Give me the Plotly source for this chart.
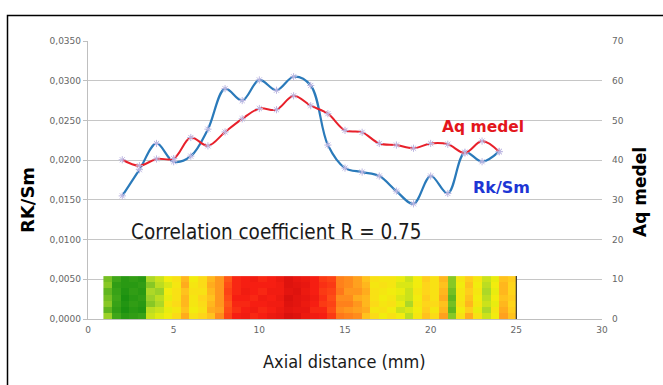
import numpy as np
import plotly.graph_objects as go

# ---------------- data ----------------
axial_mm = [2, 3, 4, 5, 6, 7, 8, 9, 10, 11, 12, 13, 14, 15, 16, 17, 18, 19, 20, 21, 22, 23, 24]
rk_sm = [0.0155, 0.0188, 0.0221, 0.0198, 0.0205, 0.0239, 0.0290, 0.0275, 0.0301, 0.0288, 0.0305,
         0.0294, 0.0219, 0.0190, 0.0185, 0.0180, 0.0161, 0.0145, 0.0180, 0.0158, 0.0210, 0.0198, 0.0211]
aq_medel = [40.1, 38.6, 40.3, 40.4, 45.7, 43.6, 47.1, 50.4, 53.0, 52.7, 56.2, 53.7, 51.7,
            47.5, 47.0, 44.2, 43.8, 43.0, 44.2, 44.0, 41.8, 44.8, 42.1]

left_ticks = [0, 0.005, 0.010, 0.015, 0.020, 0.025, 0.030, 0.035]
left_tick_labels = ["0,0000", "0,0050", "0,0100", "0,0150", "0,0200", "0,0250", "0,0300", "0,0350"]
right_ticks = [0, 10, 20, 30, 40, 50, 60, 70]
x_ticks = [0, 5, 10, 15, 20, 25, 30]

# heat strip (rows bottom -> top, 48 columns along the axis)
heat_x_start, heat_x_end = 0.9, 25.0
heat_y_top = 0.0054
heat_rows = [
    [24,14,8,10,12,30,33,36,42,52,40,44,48,58,72,80,82,78,80,84,86,92,90,84,82,80,74,62,60,58,48,42,36,40,36,28,38,48,42,54,22,40,52,40,30,36,54,48],
    [18,10,4,8,6,28,30,34,38,48,36,40,52,54,70,76,80,82,78,80,84,88,86,86,78,78,70,58,56,54,52,38,40,36,30,32,36,46,38,50,18,36,46,34,26,38,52,46],
    [22,12,6,10,8,22,26,38,42,50,38,42,50,56,68,78,78,80,80,82,82,90,88,84,80,74,72,60,60,56,50,42,38,40,34,26,38,44,42,48,20,40,50,38,30,34,50,44],
    [20,14,4,8,10,24,28,34,40,50,38,44,48,56,70,80,80,78,82,80,84,92,88,86,82,76,70,58,58,52,50,40,36,38,32,30,36,46,40,52,18,38,48,36,28,36,48,46],
    [18,12,6,10,8,26,24,36,40,48,40,40,50,56,72,78,82,80,78,82,82,88,90,84,80,74,72,62,56,56,52,40,38,36,34,30,38,44,40,50,20,38,46,38,26,34,50,44],
    [22,10,8,8,10,22,28,32,38,52,38,42,52,56,70,78,80,80,80,80,82,90,88,86,80,76,74,60,58,54,50,38,40,38,32,32,36,44,40,48,22,36,48,36,28,36,50,44],
    [20,14,8,10,8,26,30,36,40,50,36,42,50,56,68,78,80,82,78,80,84,90,86,84,80,74,72,60,58,54,48,40,38,38,34,30,36,46,40,50,22,38,46,38,30,34,48,46],
]

# ---------------- figure ----------------
n_cols = len(heat_rows[0])
heat_x = np.linspace(heat_x_start, heat_x_end, n_cols + 1)
heat_y = np.linspace(0, heat_y_top, len(heat_rows) + 1)

heat_scale = [
    [0.00, "#0c880c"], [0.15, "#43a81a"], [0.25, "#a6d52a"], [0.35, "#f0ef0c"],
    [0.45, "#ffd21c"], [0.55, "#ff9c1e"], [0.70, "#ff4c16"], [0.80, "#f61e12"], [1.00, "#c6080a"],
]

fig = go.Figure()
fig.add_trace(go.Heatmap(
    x=heat_x, y=heat_y, z=heat_rows, zmin=0, zmax=100, colorscale=heat_scale,
    showscale=False, zsmooth=False, hoverinfo="skip", yaxis="y",
))

marker_style = dict(symbol="asterisk-open", size=6, color="#bdb7e2", line=dict(width=1, color="#bdb7e2"))

fig.add_trace(go.Scatter(
    x=axial_mm, y=rk_sm, mode="lines+markers", name="Rk/Sm",
    line=dict(color="#2a7aba", width=2.2, shape="spline", smoothing=1.0),
    marker=marker_style, yaxis="y",
))
fig.add_trace(go.Scatter(
    x=axial_mm, y=aq_medel, mode="lines+markers", name="Aq medel",
    line=dict(color="#e8202a", width=2, shape="spline", smoothing=1.0),
    marker=marker_style, yaxis="y2",
))

tick_font = dict(family="DejaVu Sans, Verdana, sans-serif", size=9, color="#666666")

fig.update_layout(
    width=663, height=385,
    margin=dict(l=88, r=61, t=41, b=66),
    paper_bgcolor="white", plot_bgcolor="white",
    showlegend=False,
    xaxis=dict(range=[0, 30], tickvals=x_ticks, showgrid=False, zeroline=False,
               showline=True, linecolor="#bfbfbf", linewidth=1.3, ticks="",
               tickfont=tick_font, ticklabelstandoff=2),
    yaxis=dict(range=[0, 0.035], tickvals=left_ticks, ticktext=left_tick_labels,
               showgrid=True, gridcolor="#c6c6c6", gridwidth=1.3, zeroline=False,
               showline=True, linecolor="#bfbfbf", linewidth=1.3,
               ticks="outside", ticklen=4, tickcolor="#bfbfbf", tickfont=tick_font),
    yaxis2=dict(range=[0, 70], tickvals=right_ticks, overlaying="y", side="right",
                showgrid=False, zeroline=False, showline=False, ticks="",
                tickfont=tick_font, ticklabelstandoff=9),
)

def px_to_paper_x(px):
    return (px - 88) / 514.0

def px_to_paper_y(py):
    return (319 - py) / 278.0

narrow = "DejaVu Sans Condensed, Liberation Sans Narrow, Arial Narrow, sans-serif"
annots = [
    dict(text="RK/Sm", x=px_to_paper_x(27), y=px_to_paper_y(200), textangle=-90,
         font=dict(family="DejaVu Sans, Verdana, sans-serif", size=18, color="black", weight="bold")),
    dict(text="Aq medel", x=px_to_paper_x(640), y=px_to_paper_y(192), textangle=-90,
         font=dict(family="DejaVu Sans, Verdana, sans-serif", size=17, color="black", weight="bold")),
    dict(text="Aq medel", x=px_to_paper_x(482.5), y=px_to_paper_y(127),
         font=dict(family="DejaVu Sans, Verdana, sans-serif", size=15.5, color="#e3161c", weight="bold")),
    dict(text="Rk/Sm", x=px_to_paper_x(501.5), y=px_to_paper_y(187),
         font=dict(family="DejaVu Sans, Verdana, sans-serif", size=16, color="#1d36d4", weight="bold")),
    dict(text="Correlation coefficient R = 0.75", x=px_to_paper_x(276.5), y=px_to_paper_y(231.5),
         font=dict(family=narrow, size=20.5, color="#1a1a1a")),
    dict(text="Axial distance (mm)", x=px_to_paper_x(344), y=px_to_paper_y(361),
         font=dict(family=narrow, size=18, color="#1a1a1a")),
]
for a in annots:
    fig.add_annotation(xref="paper", yref="paper", showarrow=False, xanchor="center", yanchor="middle", **a)

# black frame around the whole chart
fig.add_shape(type="rect", xref="paper", yref="paper",
              x0=px_to_paper_x(7.5), x1=px_to_paper_x(700), y0=px_to_paper_y(420), y1=px_to_paper_y(15.5),
              line=dict(color="black", width=1.5), fillcolor="rgba(0,0,0,0)", layer="above")
# dark edge at end of heat strip
fig.add_shape(type="line", xref="x", yref="y", x0=heat_x_end, x1=heat_x_end, y0=0, y1=heat_y_top,
              line=dict(color="#333333", width=1.2))

fig.write_html("out.html", config={"displayModeBar": False},
               post_script="document.body.style.margin='0';document.body.style.overflow='hidden';")
